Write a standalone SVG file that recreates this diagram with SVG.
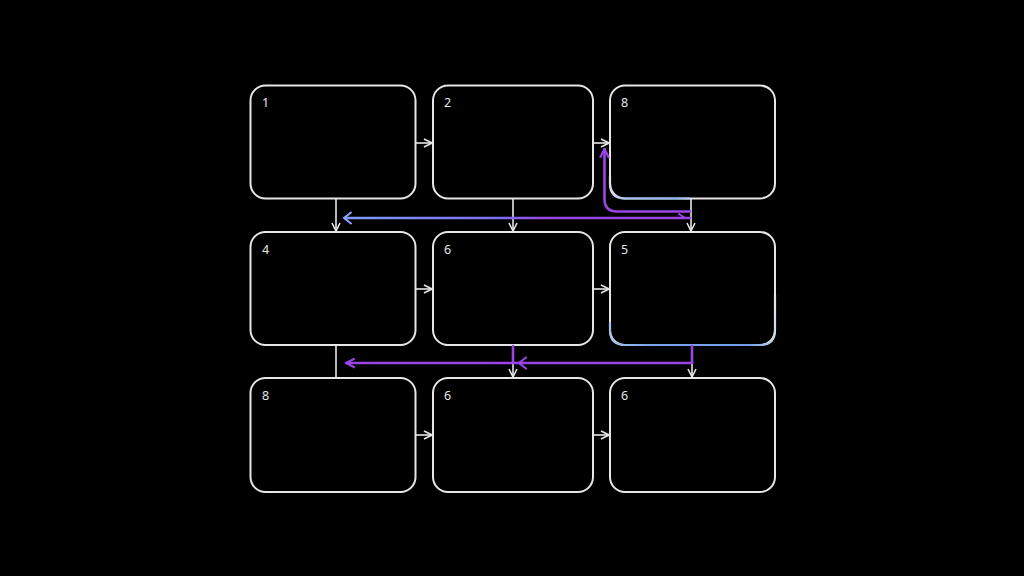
<svg xmlns="http://www.w3.org/2000/svg" width="1024" height="576" viewBox="0 0 1024 576">
<defs>
<style>
.box{fill:#000;stroke:#e6e6e6;stroke-width:2}
.lbl{font-family:"Noto Sans","DejaVu Sans",sans-serif;font-size:12.5px;fill:#e6e6e6}
.w{fill:none;stroke:#e6e6e6;stroke-width:1.6}
.p{fill:none;stroke:#9b45e6;stroke-width:2.6;stroke-linecap:round;stroke-linejoin:round}
</style>
<marker id="aw" viewBox="0 0 10 10" refX="9" refY="5" markerWidth="10" markerHeight="10" markerUnits="userSpaceOnUse" orient="auto">
<path d="M1,1 L9,5 L1,9" fill="none" stroke="#e6e6e6" stroke-width="1.6"/>
</marker>
<marker id="ap" viewBox="0 0 10 10" refX="9" refY="5" markerWidth="11" markerHeight="11" markerUnits="userSpaceOnUse" orient="auto">
<path d="M1,1 L9,5 L1,9" fill="none" stroke="#9b45e6" stroke-width="2"/>
</marker>
<linearGradient id="bp" gradientUnits="userSpaceOnUse" x1="343" y1="0" x2="690" y2="0">
<stop offset="0" stop-color="#7f9cff"/>
<stop offset="0.45" stop-color="#7d6ef2"/>
<stop offset="0.6" stop-color="#9b45e6"/>
<stop offset="1" stop-color="#9b45e6"/>
</linearGradient>
<linearGradient id="h3" gradientUnits="userSpaceOnUse" x1="610" y1="175" x2="690" y2="198">
<stop offset="0" stop-color="#e6e6e6"/>
<stop offset="0.3" stop-color="#9cc0f5"/>
<stop offset="0.85" stop-color="#8ab4f5"/>
<stop offset="1" stop-color="#bcd0ee"/>
</linearGradient>
<linearGradient id="h6" gradientUnits="userSpaceOnUse" x1="610" y1="330" x2="775" y2="300">
<stop offset="0" stop-color="#a8c4f0"/>
<stop offset="0.2" stop-color="#7aa6ee"/>
<stop offset="0.8" stop-color="#6f9fee"/>
<stop offset="1" stop-color="#e6e6e6"/>
</linearGradient>
</defs>
<rect width="1024" height="576" fill="#000"/>

<g id="n1"><rect class="box" x="250.5" y="85.5" width="165" height="113" rx="15"/><text class="lbl" x="262" y="107">1</text></g>
<g id="n2"><rect class="box" x="433" y="85.5" width="160" height="113" rx="15"/><text class="lbl" x="444" y="107">2</text></g>
<g id="n3"><rect class="box" x="610" y="85.5" width="165" height="113" rx="15"/><text class="lbl" x="621" y="107">8</text>
<path d="M610,176 L610,183.5 Q610,198.5 625,198.5 L690,198.5" fill="none" stroke="url(#h3)" stroke-width="2.2"/></g>
<g id="n4"><rect class="box" x="250.5" y="232" width="165" height="113" rx="15"/><text class="lbl" x="262" y="254">4</text></g>
<g id="n5"><rect class="box" x="433" y="232" width="160" height="113" rx="15"/><text class="lbl" x="444" y="254">6</text></g>
<g id="n6"><rect class="box" x="610" y="232" width="165" height="113" rx="15"/><text class="lbl" x="621" y="254">5</text>
<path d="M610,322 L610,330 Q610,345 625,345 L760,345 Q775,345 775,330 L775,295" fill="none" stroke="url(#h6)" stroke-width="2.2"/></g>
<g id="n7"><rect class="box" x="250.5" y="378" width="165" height="114" rx="15"/><text class="lbl" x="262" y="400">8</text></g>
<g id="n8"><rect class="box" x="433" y="378" width="160" height="114" rx="15"/><text class="lbl" x="444" y="400">6</text></g>
<g id="n9"><rect class="box" x="610" y="378" width="165" height="114" rx="15"/><text class="lbl" x="621" y="400">6</text></g>

<g id="connectors">
<line class="w" x1="416" y1="143" x2="432" y2="143" marker-end="url(#aw)"/>
<line class="w" x1="594" y1="143" x2="609" y2="143" marker-end="url(#aw)"/>
<line class="w" x1="416" y1="289" x2="432" y2="289" marker-end="url(#aw)"/>
<line class="w" x1="594" y1="289" x2="609" y2="289" marker-end="url(#aw)"/>
<line class="w" x1="416" y1="435" x2="432" y2="435" marker-end="url(#aw)"/>
<line class="w" x1="594" y1="435" x2="609" y2="435" marker-end="url(#aw)"/>
<line class="w" x1="336" y1="199" x2="336" y2="231" marker-end="url(#aw)"/>
<line class="w" x1="513" y1="199" x2="513" y2="231" marker-end="url(#aw)"/>
<line class="w" x1="691" y1="199" x2="691" y2="231" marker-end="url(#aw)"/>
<line class="w" x1="336" y1="346" x2="336" y2="377"/>
<line class="w" x1="513" y1="363" x2="513" y2="377" marker-end="url(#aw)"/>
<line class="w" x1="692" y1="363" x2="692" y2="377" marker-end="url(#aw)"/>
<path class="p" d="M690,211.5 L617,211.5 Q604.5,211.5 604.5,199 L604.5,149" marker-end="url(#ap)"/>
<line x1="690" y1="218" x2="345" y2="218" stroke="url(#bp)" stroke-width="2.6" stroke-linecap="round"/>
<path d="M351,212.5 L344,218 L351,223.5" fill="none" stroke="#8fa8ff" stroke-width="2" stroke-linecap="round"/>
<path d="M679,214 L685,218" fill="none" stroke="#9b45e6" stroke-width="2" stroke-linecap="round"/>
<line class="p" x1="513" y1="346" x2="513" y2="363"/>
<line class="p" x1="692" y1="346" x2="692" y2="363"/>
<line class="p" x1="692" y1="363" x2="346" y2="363" marker-end="url(#ap)"/>
<path d="M526,357.5 L519,363 L526,368.5" fill="none" stroke="#9b45e6" stroke-width="2.2" stroke-linecap="round"/>
</g>
</svg>
